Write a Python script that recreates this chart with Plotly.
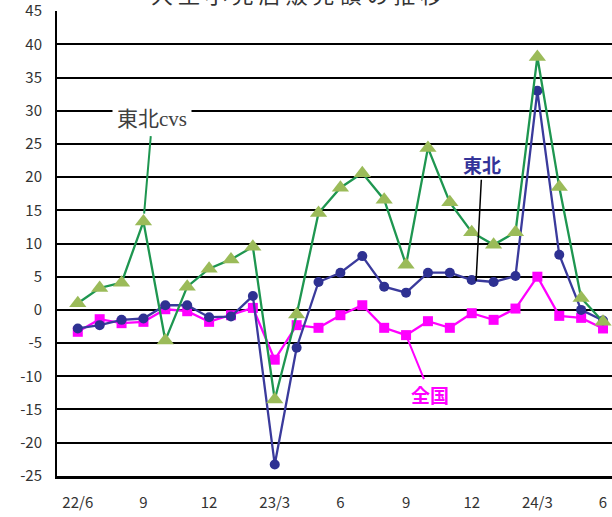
import plotly.graph_objects as go

months = list(range(25))  # 22/6 .. 24/6
tick_pos = [0, 3, 6, 9, 12, 15, 18, 21, 24]
tick_labels = ["22/6", "9", "12", "23/3", "6", "9", "12", "24/3", "6"]
y_ticks = [-25, -20, -15, -10, -5, 0, 5, 10, 15, 20, 25, 30, 35, 40, 45]

zenkoku = [-3.3, -1.4, -2.0, -1.8, 0.1, -0.2, -1.8, -0.8, 0.3, -7.5, -2.3, -2.7, -0.8,
           0.7, -2.7, -3.8, -1.7, -2.7, -0.5, -1.5, 0.2, 5.0, -0.9, -1.2, -2.8]
tohoku = [-2.8, -2.3, -1.5, -1.3, 0.7, 0.7, -1.1, -1.0, 2.1, -23.3, -5.7, 4.2, 5.6,
          8.1, 3.5, 2.6, 5.6, 5.6, 4.5, 4.2, 5.1, 33.0, 8.3, 0.0, -1.6]
tohoku_cvs = [1.0, 3.3, 4.1, 13.3, -4.6, 3.5, 6.2, 7.6, 9.5, -13.5, -0.7, 14.6, 18.4,
              20.6, 16.6, 6.8, 24.4, 16.2, 11.7, 9.8, 11.7, 38.1, 18.5, 1.8, -1.8]

fig = go.Figure()
fig.add_trace(go.Scatter(x=months, y=zenkoku, mode="lines+markers", name="全国",
                         line=dict(color="#FF00FF", width=2.3),
                         marker=dict(symbol="square", size=10, color="#FF00FF")))
fig.add_trace(go.Scatter(x=months, y=tohoku, mode="lines+markers", name="東北",
                         line=dict(color="#3A3A9C", width=2.3),
                         marker=dict(symbol="circle", size=10, color="#2E3192")))
fig.add_trace(go.Scatter(x=months, y=tohoku_cvs, mode="lines+markers", name="東北cvs",
                         line=dict(color="#1E9650", width=2.3),
                         marker=dict(symbol="triangle-up", size=15, color="#9BBB59")))

jp = "Noto Sans CJK JP"
fig.update_layout(
    width=612, height=517,
    margin=dict(l=57, r=0, t=11, b=41),
    paper_bgcolor="white", plot_bgcolor="white",
    showlegend=False,
    font=dict(family=jp, color="#333333"),
    xaxis=dict(range=[-0.95, 24.41], tickmode="array", tickvals=tick_pos,
               ticktext=tick_labels, showgrid=False, zeroline=False,
               showline=True, linecolor="black", linewidth=2.5,
               ticks="", ticklabelstandoff=11,
               tickfont=dict(size=15, color="#333333", family=jp)),
    yaxis=dict(range=[-25.02, 45.02], tickmode="array", tickvals=y_ticks,
               ticktext=[str(v) for v in y_ticks], showgrid=True,
               gridcolor="black", gridwidth=2, zeroline=False,
               showline=True, linecolor="black", linewidth=2, mirror=False,
               ticks="", ticklabelstandoff=10, ticklabeloverflow="allow",
               tickfont=dict(size=15, color="#333333", family=jp)),
)

annotations = [
    # partially cut-off title at the very top
    dict(text="大 型 小 売 店 販 売 額 の 推 移", xref="paper", yref="paper",
         x=(296 - 57) / 555, y=1 + (11 + 7) / 465, xanchor="center", yanchor="middle",
         showarrow=False, font=dict(size=22, color="#333333", family=jp)),
    dict(text="東北<span style='font-family:Liberation Serif'>cvs</span>",
         x=3, y=tohoku_cvs[3], xref="x", yref="y",
         ax=9, ay=-105, showarrow=True, arrowhead=0, arrowwidth=2,
         arrowcolor="#1E9650", standoff=8, bgcolor="white", borderpad=4,
         font=dict(size=21, color="#404040", family=jp)),
    dict(text="<b>東北</b>", x=18.2, y=4.4, xref="x", yref="y",
         ax=6, ay=-116, showarrow=True, arrowhead=0, arrowwidth=1.5,
         arrowcolor="black", standoff=0, bgcolor="rgba(255,255,255,0)",
         font=dict(size=19, color="#333399", family=jp)),
    dict(text="<b>全国</b>", x=15, y=zenkoku[15], xref="x", yref="y",
         ax=24, ay=59, showarrow=True, arrowhead=0, arrowwidth=2,
         arrowcolor="#FF00FF", standoff=4,
         font=dict(size=19, color="#FF00FF", family=jp)),
]
fig.update_layout(annotations=annotations)

fig.write_html("out.html", config={"displayModeBar": False},
               post_script="document.body.style.margin='0px';document.body.style.padding='0px';")
